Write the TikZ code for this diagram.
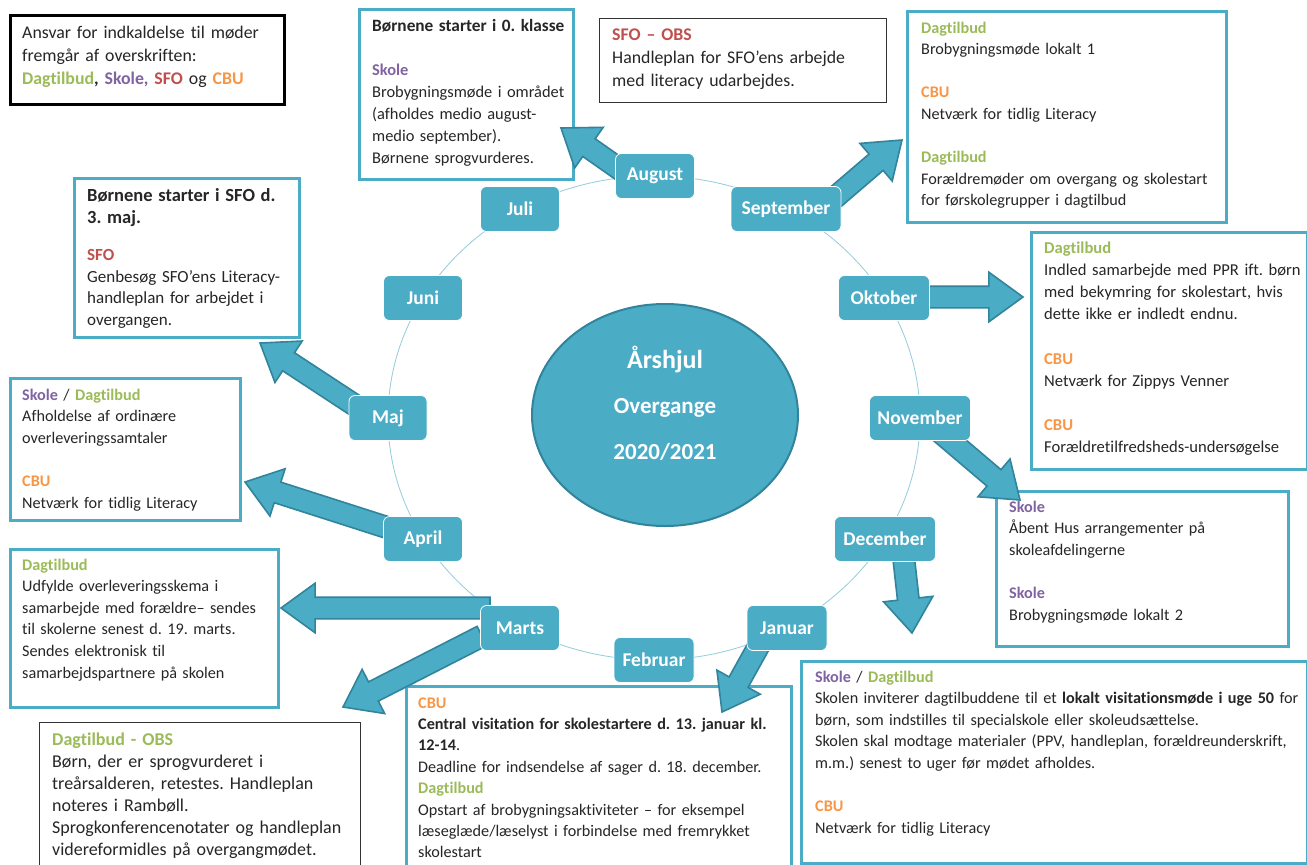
\documentclass[tikz,border=0pt]{standalone}
\usepackage{fontspec}
\setmainfont{Carlito}[Ligatures=NoCommon]
\frenchspacing
\usetikzlibrary{shapes.arrows,shapes.geometric,calc}
\definecolor{teal1}{HTML}{4BACC6}
\definecolor{teald}{HTML}{31849B}
\definecolor{ringc}{HTML}{92CDDC}
\definecolor{dag}{HTML}{9BBB59}
\definecolor{sko}{HTML}{8064A2}
\definecolor{sfo}{HTML}{C0504D}
\definecolor{cbu}{HTML}{F79646}
\definecolor{bodyc}{HTML}{262626}
\newcommand\hdDag{{\bfseries\color{dag}Dagtilbud}}
\newcommand\hdSko{{\bfseries\color{sko}Skole}}
\newcommand\hdSfo{{\bfseries\color{sfo}SFO}}
\newcommand\hdCbu{{\bfseries\color{cbu}CBU}}
\newcommand\blockarr[2]{%
  \path let \p1=(#1), \p2=(#2), \n1={atan2(\y2-\y1,\x2-\x1)}, \n2={veclen(\x2-\x1,\y2-\y1)} in
    node[barrow, minimum height=\n2, rotate=\n1, anchor=tail] at (\p1) {};%
}
\tikzset{
  barrow/.style={single arrow, fill=teal1, draw=teald, line width=1.6pt,
    single arrow head extend=14pt, single arrow tip angle=72, single arrow head indent=0pt,
    inner sep=10pt, minimum width=48pt, outer sep=0pt},
  mon/.style={rounded corners=6pt, fill=teal1, draw=white, line width=0.8pt,
    minimum height=45pt, inner sep=0pt, text=white,
    font=\bfseries\fontsize{19.5}{21}\selectfont},
  tbox/.style={draw=teal1, line width=3pt, fill=white, inner sep=0pt, anchor=north west},
  obox/.style={draw=black!80, line width=1pt, fill=white, inner sep=0pt, anchor=north west},
  body/.style={anchor=base west, inner sep=0pt, align=left, text width=#1, text=bodyc,
    font=\fontsize{16.2}{21.6}\selectfont},
}
\begin{document}
\begin{tikzpicture}[x=1pt,y=-1pt]
\useasboundingbox (0,0) rectangle (1307,865);
\fill[white] (0,0) rectangle (1307,865);

% ring
\draw[ringc, line width=0.8pt] (654,418) ellipse [x radius=266, y radius=242];

% centre
\node[ellipse, fill=teal1, draw=teald, line width=2pt, minimum width=266pt, minimum height=222pt, inner sep=0pt] (hub) at (665,415) {};
\node[text=white, font=\bfseries\fontsize{26}{28}\selectfont] (t1) at (665,360) {Årshjul};
\node[text=white, font=\bfseries\fontsize{23}{25}\selectfont] (t2) at (665,408) {Overgange};
\node[text=white, font=\bfseries\fontsize{23}{25}\selectfont] (t3) at (665,452) {2020/2021};

% arrow end points
\coordinate (sAug) at (628,175); \coordinate (eAug) at (561,128);
\coordinate (sSep) at (832,200); \coordinate (eSep) at (902,140);
\coordinate (sOkt) at (920,297); \coordinate (eOkt) at (1023,297);
\coordinate (sNov) at (940,432); \coordinate (eNov) at (1020,500);
\coordinate (sDec) at (903,552); \coordinate (eDec) at (912,633);
\coordinate (sJan) at (762,640); \coordinate (eJan) at (722,712);
\coordinate (sMa1) at (490,608); \coordinate (eMa1) at (281,608);
\coordinate (sMa2) at (482,636); \coordinate (eMa2) at (343,707);
\coordinate (sApr) at (398,531); \coordinate (eApr) at (245,482);
\coordinate (sMaj) at (356,406); \coordinate (eMaj) at (260,343);

% text boxes
\node[obox, line width=3pt, draw=black, minimum width=274pt, minimum height=89pt] (bLeg) at (9,14) {};
\node[body=300pt, font=\fontsize{17.8}{23}\selectfont] (tLeg) at ([shift={(13,24)}]bLeg.north west)
 {Ansvar for indkaldelse til møder\\ fremgår af overskriften:\\
  \hdDag{\bfseries ,} {\bfseries\color{sko}Skole,} \hdSfo{} og \hdCbu};

\node[tbox, minimum width=214pt, minimum height=170pt] (bAug) at (358,8) {};
\node[body=300pt, font=\fontsize{16.4}{22}\selectfont] (tAug) at ([shift={(14,23)}]bAug.north west)
 {{\fontsize{17.3}{22}\selectfont\textbf{Børnene starter i 0. klasse}}\\[22pt]
  \hdSko\\ Brobygningsmøde i området\\ (afholdes medio august-\\ medio september).\\ Børnene sprogvurderes.};

\node[obox, minimum width=287pt, minimum height=84pt] (bObs) at (599,18) {};
\node[body=300pt, font=\fontsize{17.8}{23}\selectfont] (tObs) at ([shift={(13,22)}]bObs.north west)
 {{\bfseries\color{sfo}SFO – OBS}\\ Handleplan for SFO’ens arbejde\\ med literacy udarbejdes.};

\node[tbox, minimum width=319pt, minimum height=211pt] (bSep) at (906,10) {};
\node[body=330pt] (tSep) at ([shift={(15,23)}]bSep.north west)
 {\hdDag\\ Brobygningsmøde lokalt 1\\[21.6pt] \hdCbu\\ Netværk for tidlig Literacy\\[21.6pt]
  \hdDag\\ Forældremøder om overgang og skolestart\\ for førskolegrupper i dagtilbud};

\node[tbox, minimum width=276pt, minimum height=237pt] (bOkt) at (1030,231) {};
\node[body=300pt, font=\fontsize{16.6}{22.2}\selectfont] (tOkt) at ([shift={(14,22)}]bOkt.north west)
 {\hdDag\\ Indled samarbejde med PPR ift. børn\\ med bekymring for skolestart, hvis\\ dette ikke er indledt endnu.\\[22.2pt]
  \hdCbu\\ Netværk for Zippys Venner\\[22.2pt] \hdCbu\\ Forældretilfredsheds-undersøgelse};

\node[tbox, minimum width=292pt, minimum height=155pt] (bNov) at (995,490) {};
\node[body=300pt] (tNov) at ([shift={(14,22)}]bNov.north west)
 {\hdSko\\ Åbent Hus arrangementer på\\ skoleafdelingerne\\[21.6pt] \hdSko\\ Brobygningsmøde lokalt 2};

\node[tbox, minimum width=506pt, minimum height=202pt] (bDec) at (800,660) {};
\node[body=520pt] (tDec) at ([shift={(15,22)}]bDec.north west)
 {\hdSko{} / \hdDag\\
  Skolen inviterer dagtilbuddene til et \textbf{lokalt visitationsmøde i uge 50} for\\
  børn, som indstilles til specialskole eller skoleudsættelse.\\
  Skolen skal modtage materialer (PPV, handleplan, forældreunderskrift,\\
  m.m.) senest to uger før mødet afholdes.\\[21.6pt]
  \hdCbu\\ Netværk for tidlig Literacy};

\node[tbox, minimum width=385pt, minimum height=190pt] (bJan) at (405,685) {};
\node[body=400pt, font=\fontsize{16.2}{21.4}\selectfont] (tJan) at ([shift={(13,23)}]bJan.north west)
 {\hdCbu\\ \textbf{Central visitation for skolestartere d. 13. januar kl.}\\ \textbf{12-14}.\\
  Deadline for indsendelse af sager d. 18. december.\\ \hdDag\\
  Opstart af brobygningsaktiviteter – for eksempel\\ læseglæde/læselyst i forbindelse med fremrykket\\ skolestart};

\node[tbox, minimum width=268pt, minimum height=158pt] (bMar) at (9,548) {};
\node[body=300pt] (tMar) at ([shift={(13,22)}]bMar.north west)
 {\hdDag\\ Udfylde overleveringsskema i\\ samarbejde med forældre– sendes\\ til skolerne senest d. 19. marts.\\
  Sendes elektronisk til\\ samarbejdspartnere på skolen};

\node[obox, minimum width=321pt, minimum height=160pt] (bOb2) at (39,722) {};
\node[body=340pt, font=\fontsize{18}{22}\selectfont] (tOb2) at ([shift={(13,23.5)}]bOb2.north west)
 {{\bfseries\color{dag}Dagtilbud - OBS}\\ Børn, der er sprogvurderet i\\ treårsalderen, retestes. Handleplan\\
  noteres i Rambøll.\\ Sprogkonferencenotater og handleplan\\ videreformidles på overgangmødet.};

\node[tbox, minimum width=230pt, minimum height=142pt] (bApr) at (9,377) {};
\node[body=260pt] (tApr) at ([shift={(13,23)}]bApr.north west)
 {\hdSko{} / \hdDag\\ Afholdelse af ordinære\\ overleveringssamtaler\\[21.6pt] \hdCbu\\ Netværk for tidlig Literacy};

\node[tbox, minimum width=225pt, minimum height=159pt] (bMaj) at (73,177) {};
\node[body=260pt, font=\fontsize{17}{21.5}\selectfont] (tMaj) at ([shift={(14,24.5)}]bMaj.north west)
 {{\fontsize{18.5}{23}\selectfont\textbf{Børnene starter i SFO d.}\\ \textbf{3. maj.}}\\[16pt] \hdSfo\\ Genbesøg SFO’ens Literacy-\\ handleplan for arbejdet i\\ overgangen.};

% block arrows
\blockarr{sAug}{eAug}
\blockarr{sSep}{eSep}
\blockarr{sOkt}{eOkt}
\blockarr{sNov}{eNov}
\blockarr{sDec}{eDec}
\blockarr{sJan}{eJan}
\blockarr{sMa1}{eMa1}
\blockarr{sMa2}{eMa2}
\blockarr{sApr}{eApr}
\blockarr{sMaj}{eMaj}

% month boxes
\node[mon, minimum width=79pt] (aug) at (655,176) {August};
\node[mon, minimum width=79pt] (jul) at (520,209) {Juli};
\node[mon, minimum width=110pt] (sep) at (786,209) {September};
\node[mon, minimum width=91pt] (okt) at (884,298) {Oktober};
\node[mon, minimum width=101pt] (nov) at (920,418) {November};
\node[mon, minimum width=101pt] (dec) at (885,539) {December};
\node[mon, minimum width=80pt] (jan) at (787,628) {Januar};
\node[mon, minimum width=80pt] (feb) at (654,660) {Februar};
\node[mon, minimum width=79pt] (mar) at (520,628) {Marts};
\node[mon, minimum width=79pt] (apr) at (423,539) {April};
\node[mon, minimum width=78pt] (maj) at (388,418) {Maj};
\node[mon, minimum width=79pt] (jun) at (423,298) {Juni};
\end{tikzpicture}
\end{document}
